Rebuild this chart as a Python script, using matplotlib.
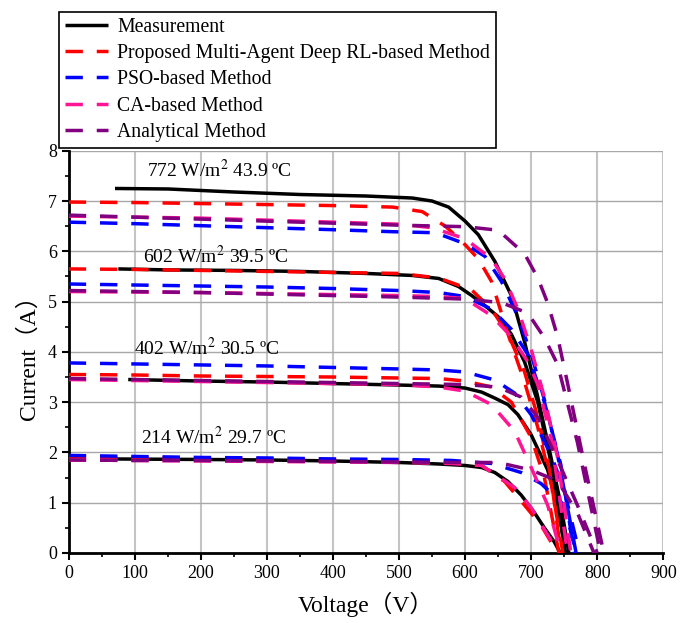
import matplotlib
matplotlib.use("Agg")
import matplotlib.pyplot as plt
from matplotlib.ticker import MultipleLocator

plt.rcParams['font.family'] = ['Liberation Serif', 'Noto Sans CJK SC', 'DejaVu Sans']
plt.rcParams['mathtext.fontset'] = 'stix'

conditions = [772, 602, 402, 214]
cond_labels = {772: "772 W/m$^2$ 43.9 ºC", 602: "602 W/m$^2$ 39.5 ºC",
               402: "402 W/m$^2$ 30.5 ºC", 214: "214 W/m$^2$ 29.7 ºC"}
label_pos = {772: (118, 7.62), 602: (113, 5.9), 402: (98, 4.08), 214: (110, 2.3)}

# measured I-V curves
meas_v = {
    772: [70, 150, 250, 350, 450, 520, 550, 575, 600, 620, 645, 670, 690, 710, 730, 745, 757],
    602: [75, 150, 250, 350, 450, 520, 560, 590, 610, 630, 650, 670, 690, 710, 730, 752],
    402: [90, 200, 300, 400, 500, 560, 600, 625, 645, 665, 680, 700, 725, 744, 751],
    214: [65, 200, 300, 400, 500, 560, 600, 625, 645, 665, 685, 705, 720, 735, 744],
}
meas_i = {
    772: [7.25, 7.24, 7.18, 7.13, 7.1, 7.06, 7.0, 6.88, 6.6, 6.33, 5.8, 5.12, 4.2, 3.1, 1.9, 0.95, 0],
    602: [5.65, 5.63, 5.62, 5.6, 5.56, 5.52, 5.46, 5.3, 5.12, 4.92, 4.7, 4.35, 3.8, 3.0, 1.8, 0],
    402: [3.45, 3.42, 3.4, 3.37, 3.34, 3.32, 3.28, 3.2, 3.08, 2.95, 2.75, 2.35, 1.65, 0.72, 0],
    214: [1.87, 1.86, 1.85, 1.83, 1.8, 1.77, 1.74, 1.7, 1.6, 1.42, 1.15, 0.8, 0.5, 0.22, 0],
}

# proposed multi-agent deep RL
rl_v = {
    772: [0, 100, 200, 300, 400, 490, 535, 570, 595, 620, 640, 665, 690, 710, 730, 748],
    602: [0, 100, 200, 300, 400, 500, 560, 610, 640, 665, 690, 710, 730, 745],
    402: [0, 100, 200, 300, 400, 500, 560, 600, 640, 670, 700, 720, 742],
    214: [0, 100, 200, 300, 400, 500, 580, 625, 660, 690, 715, 740],
}
rl_i = {
    772: [6.98, 6.97, 6.95, 6.93, 6.91, 6.88, 6.79, 6.5, 6.2, 5.85, 5.4, 4.35, 3.4, 2.5, 1.4, 0],
    602: [5.65, 5.64, 5.62, 5.6, 5.58, 5.56, 5.47, 5.23, 4.85, 4.35, 3.6, 2.7, 1.5, 0],
    402: [3.55, 3.54, 3.52, 3.51, 3.5, 3.48, 3.47, 3.42, 3.3, 3.0, 2.3, 1.5, 0],
    214: [1.91, 1.9, 1.89, 1.87, 1.86, 1.84, 1.8, 1.74, 1.42, 0.95, 0.55, 0],
}

# PSO
pso_v = {
    772: [0, 100, 200, 300, 400, 490, 555, 600, 630, 655, 680, 700, 720, 740, 768],
    602: [0, 100, 200, 300, 400, 500, 560, 600, 640, 670, 695, 720, 745, 765],
    402: [0, 100, 200, 300, 400, 500, 560, 600, 645, 675, 700, 730, 750, 773],
    214: [0, 100, 200, 300, 400, 500, 580, 640, 685, 715, 750, 768],
}
pso_i = {
    772: [6.58, 6.55, 6.51, 6.47, 6.43, 6.39, 6.37, 6.15, 5.9, 5.4, 4.7, 3.95, 3.05, 1.95, 0],
    602: [5.35, 5.33, 5.31, 5.29, 5.26, 5.22, 5.18, 5.1, 4.85, 4.45, 3.95, 3.0, 1.75, 0],
    402: [3.78, 3.76, 3.74, 3.72, 3.69, 3.66, 3.64, 3.6, 3.44, 3.18, 2.75, 1.95, 1.25, 0],
    214: [1.94, 1.92, 1.9, 1.89, 1.87, 1.86, 1.84, 1.78, 1.6, 1.38, 0.95, 0],
}

# CA
ca_v = {
    772: [0, 100, 200, 300, 400, 500, 550, 600, 640, 660, 680, 700, 720, 740, 760],
    602: [0, 100, 200, 300, 400, 500, 560, 600, 640, 670, 695, 710, 730, 755],
    402: [0, 100, 200, 300, 400, 500, 560, 600, 640, 675, 700, 725, 745],
    214: [0, 100, 200, 300, 400, 500, 580, 625, 675, 700, 730, 740],
}
ca_i = {
    772: [6.7, 6.68, 6.66, 6.62, 6.58, 6.54, 6.47, 6.25, 5.85, 5.45, 4.85, 4.05, 3.1, 1.9, 0],
    602: [5.2, 5.19, 5.18, 5.16, 5.14, 5.12, 5.1, 5.06, 4.72, 4.3, 3.8, 3.35, 2.3, 0],
    402: [3.45, 3.43, 3.41, 3.39, 3.37, 3.35, 3.3, 3.22, 2.95, 2.42, 1.7, 0.95, 0],
    214: [1.85, 1.84, 1.83, 1.82, 1.81, 1.8, 1.78, 1.74, 1.3, 0.9, 0.25, 0],
}

# analytical
an_v = {
    772: [0, 100, 200, 300, 400, 500, 600, 650, 690, 710, 725, 740, 755, 780, 810],
    602: [0, 100, 200, 300, 400, 500, 600, 655, 695, 720, 740, 770, 805],
    402: [0, 100, 200, 300, 400, 500, 600, 650, 685, 710, 740, 770, 800],
    214: [0, 100, 200, 300, 400, 500, 600, 650, 700, 740, 770, 795],
}
an_i = {
    772: [6.72, 6.68, 6.64, 6.6, 6.56, 6.52, 6.49, 6.42, 5.95, 5.47, 4.97, 4.3, 3.38, 1.8, 0],
    602: [5.22, 5.2, 5.18, 5.15, 5.12, 5.09, 5.05, 4.98, 4.77, 4.28, 3.75, 2.2, 0],
    402: [3.47, 3.45, 3.43, 3.41, 3.39, 3.37, 3.35, 3.3, 3.1, 2.7, 1.85, 0.95, 0],
    214: [1.85, 1.84, 1.84, 1.83, 1.82, 1.81, 1.8, 1.8, 1.65, 1.43, 0.8, 0],
}

fig = plt.figure(figsize=(6.81, 6.23), dpi=100)
ax = fig.add_axes([0.101, 0.1124, 0.873, 0.6456])

dash = (5, 4)
methods = [
    ("Proposed Multi-Agent Deep RL-based Method", rl_v, rl_i, "#ff0000"),
    ("PSO-based Method", pso_v, pso_i, "#0000ff"),
    ("CA-based Method", ca_v, ca_i, "#ff1493"),
    ("Analytical Method", an_v, an_i, "#800080"),
]

handles = []
for c in conditions:
    h, = ax.plot(meas_v[c], meas_i[c], color='black', lw=2.5, solid_capstyle='butt', zorder=3)
    if c == 772:
        handles.append(h)
for name, vd, idd, col in methods:
    for c in conditions:
        h, = ax.plot(vd[c], idd[c], color=col, lw=2.5, dashes=dash, zorder=4)
    handles.append(h)

for c in conditions:
    x, y = label_pos[c]
    ax.text(x, y, cond_labels[c], fontsize=14, va='center', ha='left')

ax.set_xlim(0, 900)
ax.set_ylim(0, 8)
ax.xaxis.set_major_locator(MultipleLocator(100))
ax.xaxis.set_minor_locator(MultipleLocator(50))
ax.yaxis.set_major_locator(MultipleLocator(1))
ax.yaxis.set_minor_locator(MultipleLocator(0.5))
ax.tick_params(which='major', direction='out', length=5, width=1.5, labelsize=13)
ax.tick_params(which='minor', direction='out', length=3, width=1.2)
ax.xaxis.grid(True, color='#c4c4c4', lw=1.5)
ax.yaxis.grid(True, color='#a8a8a8', lw=1.0)
ax.set_axisbelow(True)
for s in ['top', 'right']:
    ax.spines[s].set_visible(False)
for s in ['left', 'bottom']:
    ax.spines[s].set_linewidth(2)

ax.set_xlabel("Voltage（V）", fontsize=17, labelpad=7)
ax.set_ylabel("Current（A）", fontsize=17, labelpad=6)

labels = ["Measurement"] + [m[0] for m in methods]
leg = fig.legend(handles, labels, loc='upper left', bbox_to_anchor=(0.0866, 0.981),
                 borderaxespad=0, fontsize=14.2, fancybox=False, edgecolor='black',
                 framealpha=1, handlelength=2.2, handletextpad=0.45,
                 labelspacing=0.37, borderpad=0.3)
leg.get_frame().set_linewidth(1.2)

plt.savefig("out.png", dpi=100)
